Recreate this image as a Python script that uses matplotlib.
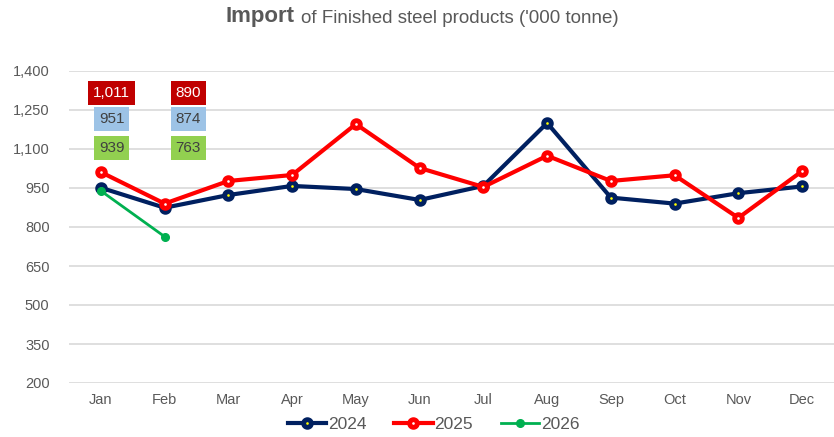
import numpy as np
import matplotlib.pyplot as plt
from matplotlib.ticker import FuncFormatter

# chart values
months = ['Jan', 'Feb', 'Mar', 'Apr', 'May', 'Jun', 'Jul', 'Aug', 'Sep', 'Oct', 'Nov', 'Dec']
imp_2024 = [951, 874, 923, 958, 946, 904, 958, 1200, 913, 890, 930, 956]
imp_2025 = [1011, 890, 977, 1000, 1196, 1027, 954, 1074, 977, 999, 835, 1015]
imp_2026 = [939, 763]

navy = '#002060'
red = '#FF0000'
green = '#00B050'
grey = '#595959'

plt.rcParams['font.family'] = ['Liberation Sans', 'DejaVu Sans']

fig = plt.figure(figsize=(8.34, 4.37), dpi=100)
ax = fig.add_axes([69 / 834, 1 - 383 / 437, 1 - 69 / 834, 312 / 437])

x = np.arange(len(months))
ax.plot(x, imp_2024, color=navy, lw=3, marker='o', ms=5.5, mfc='#FFFF00',
        mec=navy, mew=3.5, label='2024', zorder=3)
ax.plot(x, imp_2025, color=red, lw=3, marker='o', ms=5.5, mfc='white',
        mec=red, mew=3.5, label='2025', zorder=4)
ax.plot(x[:len(imp_2026)], imp_2026, color=green, lw=2, marker='o', ms=5.5,
        mfc=green, mec=green, label='2026', zorder=5)

# value boxes for Jan and Feb
def box(xp, yp, val, fc, tc):
    ax.text(xp, yp, f'{val:,}', ha='center', va='center', fontsize=11, color=tc,
            bbox=dict(boxstyle='square,pad=0.32', fc=fc, ec='none'), zorder=6)

for i, dx in [(0, 0.17), (1, 0.37)]:
    box(i + dx, 1316, imp_2025[i], '#C00000', 'white')
    box(i + dx, 1214, imp_2024[i], '#9DC3E6', '#404040')
    box(i + dx, 1104, imp_2026[i], '#92D050', '#404040')

ax.set_xlim(-0.5, 11.5)
ax.set_ylim(200, 1400)
ax.set_yticks(np.arange(200, 1401, 150))
ax.yaxis.set_major_formatter(FuncFormatter(lambda v, p: f'{int(v):,}'))
ax.set_xticks(x)
ax.set_xticklabels(months)
ax.tick_params(length=0, colors=grey, labelsize=10.5)
ax.tick_params(axis='x', pad=7)
ax.tick_params(axis='y', pad=14)
ax.grid(axis='y', color='#D9D9D9', lw=1.2)
ax.set_axisbelow(True)
for s in ax.spines.values():
    s.set_visible(False)

fig.text(226 / 834, 0.962, 'Import', fontsize=16, fontweight='bold', color=grey, va='center')
fig.text(301 / 834, 0.958, "of Finished steel products ('000 tonne)", fontsize=13.5,
         color=grey, va='center')

leg = fig.legend(loc='center', bbox_to_anchor=(0.52, 0.028), ncol=3, frameon=False,
                 fontsize=12.5, handlelength=2.2, columnspacing=1.6, handletextpad=0.1,
                 labelcolor=grey)

plt.savefig('out.png', dpi=100)
